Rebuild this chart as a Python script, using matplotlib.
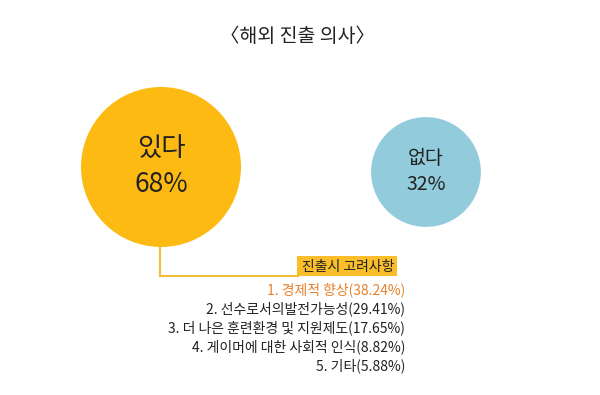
import numpy as np
import matplotlib.pyplot as plt
from matplotlib.patches import Circle, Rectangle

plt.rcParams['font.family'] = ['Noto Sans CJK KR', 'DejaVu Sans']

#Data
title = '〈해외 진출 의사〉'
answers = ['있다', '없다']
shares = [68, 32]
factor_title = '진출시 고려사항'
factors = ['경제적 향상', '선수로서의발전가능성', '더 나은 훈련환경 및 지원제도',
           '게이머에 대한 사회적 인식', '기타']
factor_pct = [38.24, 29.41, 17.65, 8.82, 5.88]

#Layout (pixels)
centers = [(161, 167), (426, 172)]
colors = ['#FCBA12', '#92CBDB']
k = 80 / np.sqrt(68)

fig = plt.figure(figsize=(6, 3.95), dpi=100)
ax = fig.add_axes([0, 0, 1, 1])
ax.set_xlim(0, 600)
ax.set_ylim(395, 0)
ax.axis('off')

ax.text(297, 36, title, ha='center', va='center', fontsize=14, color='#222222')

sizes = [19, 14]
gaps = [18, 13]
for (cx, cy), v, lab, c, fs, g in zip(centers, shares, answers, colors, sizes, gaps):
    ax.add_patch(Circle((cx, cy), k * np.sqrt(v), color=c, lw=0))
    ax.text(cx, cy - g, lab, ha='center', va='center', fontsize=fs, color='#222222')
    ax.text(cx, cy + g, f'{v}%', ha='center', va='center', fontsize=fs, color='#222222')

#connector line
r0 = k * np.sqrt(shares[0])
ax.plot([160, 160, 298], [centers[0][1] + r0, 276, 276], color='#F2BE3A', lw=1.5,
        solid_joinstyle='miter')

ax.add_patch(Rectangle((297, 256), 100, 20, color='#F9BE2A', lw=0))
ax.text(394, 266.5, factor_title, ha='right', va='center', fontsize=10, color='#222222')

ys = [290, 309, 328, 347, 366]
for i, (f, p, y) in enumerate(zip(factors, factor_pct, ys)):
    col = '#E8822C' if i == 0 else '#222222'
    ax.text(405, y, f'{i + 1}. {f}({p:.2f}%)', ha='right', va='center', fontsize=10, color=col)

fig.savefig('out.png', dpi=100)
